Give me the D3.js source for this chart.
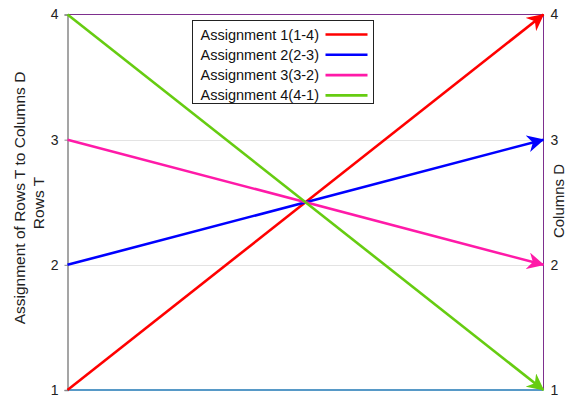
<!DOCTYPE html>
<html>
<head>
<meta charset="utf-8">
<script src="https://cdn.jsdelivr.net/npm/d3@7/dist/d3.min.js"></script>
<style>
  html, body { margin: 0; padding: 0; background: #fff; }
  svg { display: block; font-family: "Liberation Sans", Arial, sans-serif; }
</style>
</head>
<body>
<svg id="chart" width="566" height="398"></svg>
<script>
// Assignment of rows T (left) to columns D (right)
const names = ["Assignment 1(1-4)", "Assignment 2(2-3)", "Assignment 3(3-2)", "Assignment 4(4-1)"];
const rowsT = [1, 2, 3, 4];
const colsD = [4, 3, 2, 1];
const colors = ["#ff0000", "#0000ff", "#ff1aa8", "#66cc11"];
const tickValues = [1, 2, 3, 4];

const svg = d3.select("#chart");
const plot = { left: 67.5, right: 543.5, top: 14.5, bottom: 390 };

const x = d3.scaleLinear().domain([0, 1]).range([plot.left, plot.right]);
const y = d3.scaleLinear().domain([1, 4]).range([plot.bottom, plot.top]);

// arrowhead markers, one per colour
const defs = svg.append("defs");
colors.forEach((c, i) => {
  defs.append("marker")
    .attr("id", "arrow" + i)
    .attr("viewBox", "0 0 10 10")
    .attr("refX", 9.5).attr("refY", 5)
    .attr("markerWidth", 6.5).attr("markerHeight", 6.5)
    .attr("markerUnits", "strokeWidth")
    .attr("orient", "auto")
    .append("path")
    .attr("d", "M0,0 L10,5 L0,10 L3,5 Z")
    .attr("fill", c);
});

// horizontal grid lines
svg.append("g").selectAll("line")
  .data([2, 3]).join("line")
  .attr("x1", plot.left).attr("x2", plot.right)
  .attr("y1", d => Math.round(y(d)) + 0.5).attr("y2", d => Math.round(y(d)) + 0.5)
  .attr("stroke", "#e3e3e3").attr("stroke-width", 1);

// frame: top and right edges
svg.append("line").attr("x1", plot.left).attr("x2", plot.right).attr("y1", plot.top).attr("y2", plot.top)
  .attr("stroke", "#7e2f8e").attr("stroke-width", 1);
svg.append("line").attr("x1", plot.right).attr("x2", plot.right).attr("y1", plot.top).attr("y2", plot.bottom)
  .attr("stroke", "#7e2f8e").attr("stroke-width", 1);

// left axis
const leftAxis = svg.append("g")
  .attr("transform", `translate(${plot.left},0)`)
  .call(d3.axisLeft(y).tickValues(tickValues).tickFormat(d3.format("d")).tickSize(3).tickPadding(6));
leftAxis.select(".domain").attr("stroke", "#888").attr("stroke-width", 1.5);
leftAxis.selectAll(".tick line").attr("stroke", "#888");
leftAxis.selectAll("text").attr("font-size", 14).attr("fill", "#222")
  .attr("font-family", "Liberation Sans, Arial, sans-serif");

// right axis labels
const rightAxis = svg.append("g")
  .attr("transform", `translate(${plot.right},0)`)
  .call(d3.axisRight(y).tickValues(tickValues).tickFormat(d3.format("d")).tickSize(0).tickPadding(7));
rightAxis.select(".domain").remove();
rightAxis.selectAll("text").attr("font-size", 14).attr("fill", "#222")
  .attr("font-family", "Liberation Sans, Arial, sans-serif");

// bottom edge
svg.append("line").attr("x1", plot.left).attr("x2", plot.right).attr("y1", plot.bottom).attr("y2", plot.bottom)
  .attr("stroke", "#1f77b4").attr("stroke-width", 1.5);

// assignment arrows
svg.append("g").selectAll("line")
  .data(names.map((n, i) => ({ n, from: rowsT[i], to: colsD[i], i })))
  .join("line")
  .attr("x1", x(0)).attr("y1", d => y(d.from))
  .attr("x2", x(1)).attr("y2", d => y(d.to))
  .attr("stroke", d => colors[d.i])
  .attr("stroke-width", 2.6)
  .attr("marker-end", d => `url(#arrow${d.i})`);

// axis titles
svg.append("text")
  .attr("transform", "translate(25,198) rotate(-90)")
  .attr("text-anchor", "middle")
  .attr("font-size", 15.5).attr("fill", "#222")
  .text("Assignment of Rows T to Columns D");
svg.append("text")
  .attr("transform", "translate(44,203) rotate(-90)")
  .attr("text-anchor", "middle")
  .attr("font-size", 15.5).attr("fill", "#222")
  .text("Rows T");
svg.append("text")
  .attr("transform", "translate(564,201) rotate(-90)")
  .attr("text-anchor", "middle")
  .attr("font-size", 15).attr("fill", "#222")
  .text("Columns D");

// legend
const lg = svg.append("g").attr("transform", "translate(192.5,20.5)");
lg.append("rect").attr("width", 181).attr("height", 83)
  .attr("fill", "#fff").attr("stroke", "#222").attr("stroke-width", 1);
names.forEach((n, i) => {
  const ly = 14 + i * 20.3;
  lg.append("text").attr("x", 8).attr("y", ly).attr("dy", "0.35em")
    .attr("font-size", 14.5).attr("fill", "#111").text(n);
  lg.append("line").attr("x1", 133).attr("x2", 175).attr("y1", ly).attr("y2", ly)
    .attr("stroke", colors[i]).attr("stroke-width", 2.6);
});
</script>
</body>
</html>
